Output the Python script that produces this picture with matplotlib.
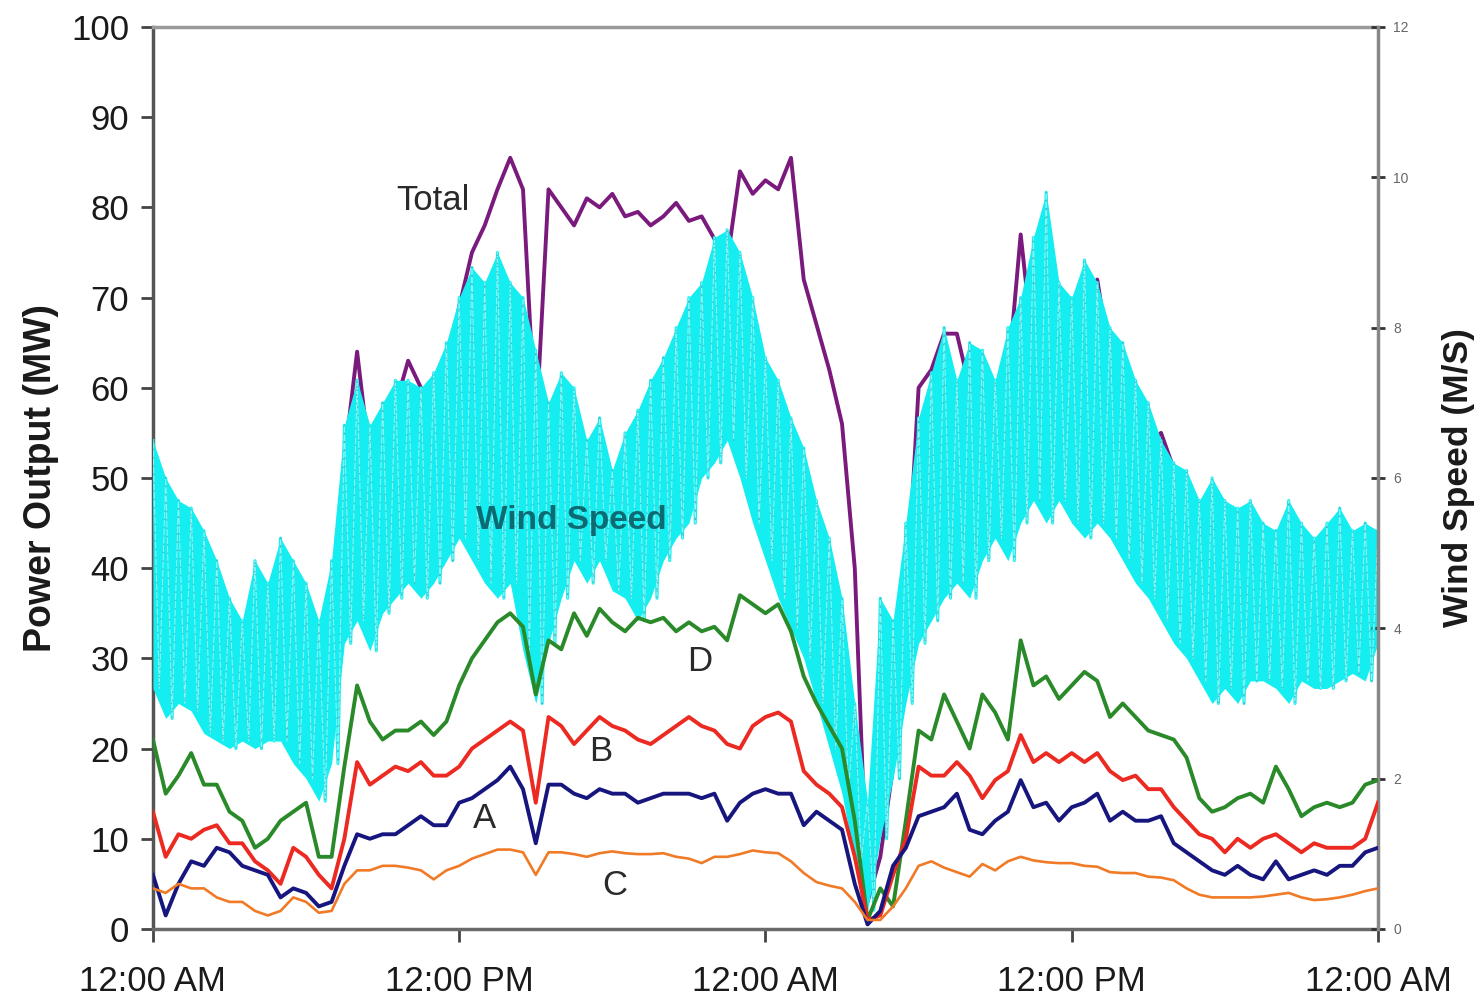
import numpy as np
import matplotlib.pyplot as plt

plt.rcParams['font.family'] = ['Liberation Sans', 'DejaVu Sans']

# half-hour readings over two days
hours = np.arange(0, 48.5, 0.5)
xlabels = ['12:00 AM', '12:00 PM', '12:00 AM', '12:00 PM', '12:00 AM']

# power output, MW
unit_d = [21, 15, 17, 19.5, 16, 16, 13, 12, 9, 10, 12, 13,
          14, 8, 8, 18, 27, 23, 21, 22, 22, 23, 21.5, 23,
          27, 30, 32, 34, 35, 33.5, 26, 32, 31, 35, 32.5, 35.5,
          34, 33, 34.5, 34, 34.5, 33, 34, 33, 33.5, 32, 37, 36,
          35, 36, 33, 28, 25, 22.5, 20, 12, 1, 4.5, 2.5, 12,
          22, 21, 26, 23, 20, 26, 24, 21, 32, 27, 28, 25.5,
          27, 28.5, 27.5, 23.5, 25, 23.5, 22, 21.5, 21, 19, 14.5, 13,
          13.5, 14.5, 15, 14, 18, 15.5, 12.5, 13.5, 14, 13.5, 14, 16,
          16.5]
unit_b = [13, 8, 10.5, 10, 11, 11.5, 9.5, 9.5, 7.5, 6.5, 5, 9,
          8, 6, 4.5, 10, 18.5, 16, 17, 18, 17.5, 18.5, 17, 17,
          18, 20, 21, 22, 23, 22, 14, 23.5, 22.5, 20.5, 22, 23.5,
          22.5, 22, 21, 20.5, 21.5, 22.5, 23.5, 22.5, 22, 20.5, 20, 22.5,
          23.5, 24, 23, 17.5, 16, 15, 13.5, 8, 1, 1.5, 6, 10,
          18, 17, 17, 18.5, 17, 14.5, 16.5, 17.5, 21.5, 18.5, 19.5, 18.5,
          19.5, 18.5, 19.5, 17.5, 16.5, 17, 15.5, 15.5, 13.5, 12, 10.5, 10,
          8.5, 10, 9, 10, 10.5, 9.5, 8.5, 9.5, 9, 9, 9, 10,
          14]
unit_a = [6, 1.5, 5, 7.5, 7, 9, 8.5, 7, 6.5, 6, 3.5, 4.5,
          4, 2.5, 3, 7, 10.5, 10, 10.5, 10.5, 11.5, 12.5, 11.5, 11.5,
          14, 14.5, 15.5, 16.5, 18, 15.5, 9.5, 16, 16, 15, 14.5, 15.5,
          15, 15, 14, 14.5, 15, 15, 15, 14.5, 15, 12, 14, 15,
          15.5, 15, 15, 11.5, 13, 12, 11, 5, 0.5, 2, 7, 9,
          12.5, 13, 13.5, 15, 11, 10.5, 12, 13, 16.5, 13.5, 14, 12,
          13.5, 14, 15, 12, 13, 12, 12, 12.5, 9.5, 8.5, 7.5, 6.5,
          6, 7, 6, 5.5, 7.5, 5.5, 6, 6.5, 6, 7, 7, 8.5,
          9]
unit_c = [4.5, 4, 5, 4.5, 4.5, 3.5, 3, 3, 2, 1.5, 2, 3.5,
          3, 1.8, 2, 5, 6.5, 6.5, 7, 7, 6.8, 6.5, 5.5, 6.5,
          7, 7.8, 8.3, 8.8, 8.8, 8.5, 6, 8.5, 8.5, 8.3, 8, 8.4,
          8.6, 8.4, 8.3, 8.3, 8.4, 8, 7.8, 7.3, 8, 8, 8.3, 8.7,
          8.5, 8.4, 7.5, 6.2, 5.2, 4.8, 4.5, 3, 1, 1, 2.5, 4.5,
          7, 7.5, 6.8, 6.3, 5.8, 7.2, 6.5, 7.5, 8, 7.6, 7.4, 7.3,
          7.3, 7, 6.9, 6.3, 6.2, 6.2, 5.8, 5.7, 5.4, 4.5, 3.8, 3.5,
          3.5, 3.5, 3.5, 3.6, 3.8, 4, 3.5, 3.2, 3.3, 3.5, 3.8, 4.2,
          4.5]
total = [44, 29, 37, 41, 39, 40, 34, 32, 25, 24, 23, 30,
         29, 20, 24, 52, 64, 52, 57, 58, 63, 60, 58, 62,
         69, 75, 78, 82, 85.5, 82, 55, 82, 80, 78, 81, 80,
         81.5, 79, 79.5, 78, 79, 80.5, 78.5, 79, 76.5, 74, 84, 81.5,
         83, 82, 85.5, 72, 67, 62, 56, 40, 3, 8, 18, 35,
         60, 62, 66, 66, 60, 59, 57, 61, 77, 64, 67, 61,
         66, 68, 72, 63, 60, 58, 54, 55, 51, 45, 35, 33,
         32, 36, 33, 33, 40, 35, 30.5, 33, 32, 33, 34, 39,
         44]

# wind speed, m/s: top and bottom of the scatter in each half hour
wind_hi = [6.5, 6.0, 5.7, 5.6, 5.3, 4.9, 4.4, 4.1, 4.9, 4.6, 5.2, 4.9,
           4.6, 4.1, 4.9, 6.7, 7.3, 6.7, 7.0, 7.3, 7.3, 7.2, 7.4, 7.8,
           8.4, 8.8, 8.6, 9.0, 8.6, 8.4, 7.7, 7.0, 7.4, 7.2, 6.5, 6.8,
           6.1, 6.6, 6.9, 7.3, 7.6, 8.0, 8.4, 8.6, 9.2, 9.3, 9.0, 8.4,
           7.6, 7.3, 6.8, 6.4, 5.7, 5.2, 4.4, 3.0, 1.7, 4.4, 4.1, 5.4,
           6.8, 7.4, 8.0, 7.3, 7.8, 7.7, 7.3, 8.0, 8.4, 9.2, 9.8, 8.6,
           8.4, 8.9, 8.6, 8.0, 7.8, 7.3, 7.0, 6.5, 6.2, 6.1, 5.7, 6.0,
           5.7, 5.6, 5.7, 5.4, 5.3, 5.7, 5.4, 5.2, 5.4, 5.6, 5.3, 5.4,
           5.3]
wind_lo = [3.2, 2.8, 3.0, 2.9, 2.6, 2.5, 2.4, 2.5, 2.4, 2.5, 2.5, 2.2,
           2.0, 1.7, 2.2, 3.8, 4.1, 3.7, 4.2, 4.4, 4.6, 4.4, 4.6, 4.9,
           5.2, 4.9, 4.6, 4.4, 4.6, 3.7, 3.0, 3.8, 4.4, 4.9, 4.6, 4.9,
           4.5, 4.4, 4.1, 4.4, 4.9, 5.2, 5.4, 6.0, 6.2, 6.5, 6.0, 5.4,
           4.9, 4.4, 4.0, 3.6, 3.0, 2.4, 1.8, 0.9, 0.25, 1.2, 2.0, 3.0,
           3.8, 4.1, 4.4, 4.6, 4.4, 4.9, 5.2, 4.9, 5.4, 5.7, 5.4, 5.7,
           5.4, 5.2, 5.4, 5.2, 4.9, 4.6, 4.4, 4.1, 3.8, 3.6, 3.3, 3.0,
           3.2, 3.0, 3.3, 3.3, 3.2, 3.0, 3.3, 3.2, 3.2, 3.3, 3.4, 3.3,
           3.8]

fig = plt.figure(figsize=(14.79, 9.99), dpi=100)
ax = fig.add_axes([0.1034, 0.0701, 0.8283, 0.9029])

# bottom layer: total (sits under the wind cloud)
ax.plot(hours, total, color='#7a1a7c', lw=2.8)
ax.set_xlim(0, 48)
ax.set_ylim(0, 100)
ax.set_yticks(range(0, 101, 10))
ax.set_xticks([0, 12, 24, 36, 48])
ax.set_xticklabels(xlabels)
ax.tick_params(axis='both', labelsize=25, labelcolor='#1a1a1a', color='#444444',
               direction='out', length=9, width=2)
ax.tick_params(axis='x', pad=17)
ax.tick_params(axis='y', pad=8)
ax.set_ylabel('Power Output (MW)', fontsize=27, fontweight='bold', color='#1a1a1a', labelpad=9)
ax.spines['right'].set_visible(False)
ax.spines['left'].set_color('#555555')
ax.spines['bottom'].set_color('#6a6a6a')
ax.spines['top'].set_color('#9a9a9a')
for s in ['left', 'bottom', 'top']:
    ax.spines[s].set_linewidth(2.5)

# middle layer: wind speed on its own axis
axw = ax.twinx()
axw.set_ylim(0, 12)
axw.set_yticks(range(0, 13, 2))
zx = np.empty(2 * len(hours))
zy = np.empty(2 * len(hours))
zx[0::2] = hours
zx[1::2] = hours + 0.25
zy[0::2] = wind_hi
zy[1::2] = wind_lo
axw.fill_between(hours, wind_lo, wind_hi, color='#14eef0', lw=0)
axw.plot(zx, zy, color='#14eef0', lw=2.2)
axw.plot(zx, zy, color='#c8fbfb', lw=0.7, alpha=0.7)
axw.plot(zx, zy, color='#3a9fb4', lw=1.0, ls=(0, (1, 5)), alpha=0.7)
axw.tick_params(axis='y', labelsize=10, labelcolor='#666666', color='#333333',
                direction='inout', length=10, width=2, pad=6)
axw.set_ylabel('Wind Speed (M/S)', fontsize=25.5, fontweight='bold', color='#1a1a1a',
               rotation=90, labelpad=24)
for s in ['left', 'bottom', 'top']:
    axw.spines[s].set_visible(False)
axw.spines['right'].set_color('#888888')
axw.spines['right'].set_linewidth(2.5)

# top layer: the four units
axu = ax.twinx()
axu.set_ylim(0, 100)
axu.axis('off')
axu.plot(hours, unit_d, color='#2a8a2a', lw=2.8)
axu.plot(hours, unit_b, color='#ec2a22', lw=2.8)
axu.plot(hours, unit_a, color='#16167e', lw=2.8)
axu.plot(hours, unit_c, color='#f07a26', lw=1.9)

axu.text(10.97, 80.8, 'Total', fontsize=25, color='#2a2a2a', ha='center', va='center')
axu.text(16.4, 45.3, 'Wind Speed', fontsize=24, fontweight='bold', color='#0c6a72',
         ha='center', va='center')
axu.text(21.43, 29.7, 'D', fontsize=25, color='#2a2a2a', ha='center', va='center')
axu.text(17.55, 19.7, 'B', fontsize=25, color='#2a2a2a', ha='center', va='center')
axu.text(13.0, 12.3, 'A', fontsize=25, color='#2a2a2a', ha='center', va='center')
axu.text(18.1, 4.8, 'C', fontsize=25, color='#2a2a2a', ha='center', va='center')

plt.savefig('out.png', dpi=100)
